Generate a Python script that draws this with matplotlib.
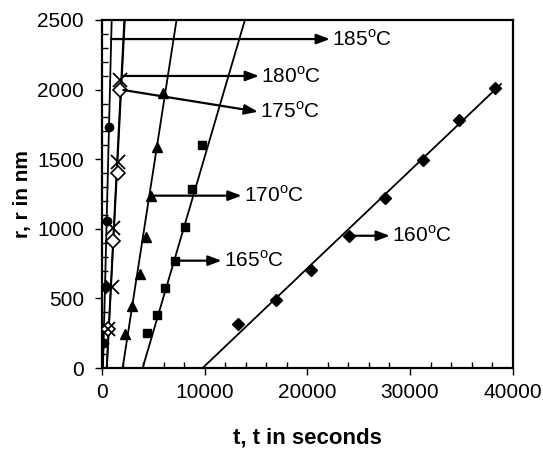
import matplotlib
matplotlib.use('Agg')
import matplotlib.pyplot as plt
import numpy as np
from matplotlib.ticker import MultipleLocator

plt.rcParams['font.family'] = ['Liberation Sans', 'DejaVu Sans']
plt.rcParams['mathtext.fontset'] = 'custom'
plt.rcParams['mathtext.rm'] = 'Liberation Sans'

# measured growth data: time t (s) and radius r (nm) per temperature
t_160 = [13200, 16900, 20350, 24050, 27600, 31250, 34800, 38300]
r_160 = [318, 488, 704, 950, 1221, 1494, 1782, 2010]
t_165 = [4350, 5330, 6130, 7110, 8080, 8790, 9780]
r_165 = [254, 381, 573, 771, 1011, 1286, 1602]
t_170 = [2240, 2890, 3700, 4280, 4770, 5320, 5970]
r_170 = [244, 445, 673, 939, 1238, 1589, 1973]
t_175 = [610, 1040, 1530, 1750]
r_175 = [278, 914, 1399, 1997]
t_180 = [610, 940, 1100, 1590, 1750]
r_180 = [278, 584, 1003, 1482, 2069]
t_185 = [150, 290, 450, 680]
r_185 = [182, 584, 1058, 1733]

# linear trend lines: t-intercept (s), slope (nm/s), last r drawn
fit_t0 = {160: 9800, 165: 3960, 170: 2010, 175: 475, 180: 458, 185: 97}
fit_k = {160: 0.0702, 165: 0.251, 170: 0.476, 175: 1.43, 180: 1.459, 185: 2.95}
fit_rmax = {160: 2040, 165: 2500, 170: 2500, 175: 2500, 180: 2500, 185: 2500}

# label arrows: (tail t, tail r, head t, head r)
labels = ['160', '165', '170', '175', '180', '185']
arrows = {
    '185': (900, 2363, 22200, 2363),
    '180': (2070, 2098, 15290, 2098),
    '175': (2070, 1997, 15190, 1841),
    '170': (4770, 1238, 13600, 1238),
    '165': (7110, 771, 11650, 771),
    '160': (24050, 950, 28040, 950),
}

fig = plt.figure(figsize=(5.43, 4.49), dpi=100)
ax = fig.add_axes([0.1878, 0.1804, 0.7564, 0.7751])

for T in fit_t0:
    r = np.array([0, fit_rmax[T]])
    ax.plot(fit_t0[T] + r / fit_k[T], r, color='black', lw=1.3, zorder=2)

ax.plot(t_160, r_160, 'D', color='black', ms=6, zorder=3)
ax.plot(t_165, r_165, 's', color='black', ms=6, zorder=3)
ax.plot(t_170, r_170, '^', color='black', ms=7, zorder=3)
ax.plot(t_175, r_175, 'D', mfc='white', mec='black', mew=1.2, ms=7, zorder=3)
ax.plot(t_180, r_180, 'x', color='black', mew=1.3, ms=10, zorder=3)
ax.plot(t_185, r_185, 'o', color='black', ms=6, zorder=3)

for lab in labels:
    t0, r0, t1, r1 = arrows[lab]
    ax.annotate('', xy=(t1, r1), xytext=(t0, r0),
                arrowprops=dict(arrowstyle='-|>,head_length=0.8,head_width=0.3',
                                color='black', lw=1.6, shrinkA=0, shrinkB=0))
    ax.text(t1 + 200, r1, lab + r'$^{\rm o}$C', fontsize=15, ha='left', va='center')

ax.set_xlim(0, 40000)
ax.set_ylim(0, 2500)
ax.xaxis.set_major_locator(MultipleLocator(10000))
ax.xaxis.set_minor_locator(MultipleLocator(2000))
ax.yaxis.set_major_locator(MultipleLocator(500))
ax.yaxis.set_minor_locator(MultipleLocator(100))
ax.tick_params(which='major', direction='out', length=5, width=1, labelsize=15,
               colors='black')
ax.tick_params(axis='x', which='major', pad=6)
ax.tick_params(axis='y', which='major', pad=8)
ax.tick_params(which='minor', direction='in', length=4, width=1)
for s in ax.spines.values():
    s.set_linewidth(1.6)

ax.set_xlabel('t, t in seconds', fontsize=16, fontweight='bold')
ax.set_ylabel('r, r in nm', fontsize=15, fontweight='bold')
ax.xaxis.set_label_coords(0.5, -0.170)
ax.yaxis.set_label_coords(-0.1715, 0.5)

fig.savefig('out.png', dpi=100)
